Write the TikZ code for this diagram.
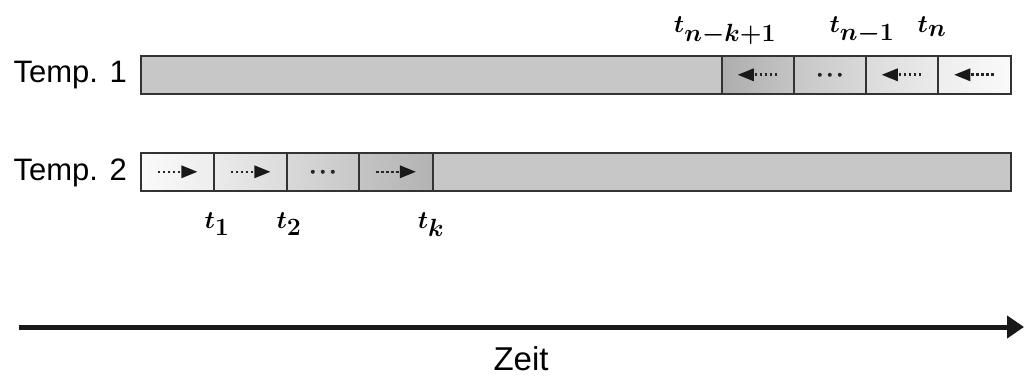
\documentclass[tikz,border=0pt]{standalone}
\usepackage{fontspec}
\setmainfont{Liberation Sans}
\usetikzlibrary{arrows.meta,calc}
\DeclareMathSizes{30}{30}{23}{18}
\begin{document}
\begin{tikzpicture}[x=1pt,y=-1pt,
  bar/.style={draw=black!80, line width=1.6pt, fill=black!22, minimum height=38pt, inner sep=0pt, anchor=north west},
  cell/.style={draw=black!80, line width=1.6pt, minimum height=38pt, inner sep=0pt, anchor=north west},
  lab/.style={font=\fontsize{31}{36}\selectfont, anchor=base east, inner sep=0pt},
  tlab/.style={font=\fontsize{30}{32}\selectfont\boldmath, anchor=base, inner sep=0pt},
  dotline/.style={line width=2.6pt, dash pattern=on 2.4pt off 2.6pt, black!85},
  head/.style={fill=black!90}
]
\useasboundingbox (0,0) rectangle (1024,377);
\newcommand\leftarr[1]{%
  \fill[head] ($(#1)+(-20,0)$) -- ($(#1)+(-4,-6.5)$) -- ($(#1)+(-4,6.5)$) -- cycle;
  \draw[dotline] ($(#1)+(-3,0)$) -- ($(#1)+(21,0)$);}
\newcommand\rightarr[1]{%
  \fill[head] ($(#1)+(20,0)$) -- ($(#1)+(4,-6.5)$) -- ($(#1)+(4,6.5)$) -- cycle;
  \draw[dotline] ($(#1)+(3,0)$) -- ($(#1)+(-21,0)$);}
\newcommand\tripledots[1]{%
  \foreach \d in {-10,0,10} \fill[black!85] ($(#1)+(\d,0)$) circle (2pt);}

% Temp. 1
\node[lab] (l1) at (127,83) {Temp. 1};
\node[bar, minimum width=870pt] (bar1) at (140,55) {};
\node[cell, minimum width=72pt, left color=black!32, right color=black!23] (a1) at (721,55) {};
\node[cell, minimum width=72pt, left color=black!22, right color=black!15] (a2) at (793,55) {};
\node[cell, minimum width=72pt, left color=black!14, right color=black!8] (a3) at (865,55) {};
\node[cell, minimum width=73pt, left color=black!7, right color=black!2] (a4) at (937,55) {};
\leftarr{a1.center}
\tripledots{a2.center}
\leftarr{a3.center}
\leftarr{a4.center}

% Temp. 2
\node[lab] (l2) at (127,180) {Temp. 2};
\node[bar, minimum width=870pt] (bar2) at (140,152) {};
\node[cell, minimum width=73pt, left color=black!2, right color=black!7] (b1) at (140,152) {};
\node[cell, minimum width=73pt, left color=black!8, right color=black!14] (b2) at (213,152) {};
\node[cell, minimum width=72pt, left color=black!15, right color=black!22] (b3) at (286,152) {};
\node[cell, minimum width=74pt, left color=black!23, right color=black!30] (b4) at (358,152) {};
\rightarr{b1.center}
\rightarr{b2.center}
\tripledots{b3.center}
\rightarr{b4.center}

% time labels
\node[tlab] (tnk) at (725,33) {$t_{n-k+1}$};
\node[tlab] (tn1) at (862,33) {$t_{n-1}$};
\node[tlab] (tn) at (932,33) {$t_{n}$};
\node[tlab] (t1) at (217,228) {$t_{1}$};
\node[tlab] (t2) at (289,228) {$t_{2}$};
\node[tlab] (tk) at (431,228) {$t_{k}$};

% time axis
\coordinate (ax0) at (19,327);
\coordinate (ax1) at (1024,327);
\draw[line width=5pt, black!90, -{Triangle[length=17pt,width=22pt]}] (ax0) -- (ax1);
\node[font=\fontsize{33}{38}\selectfont, anchor=base, inner sep=0pt] (zeit) at (521,370) {Zeit};
\end{tikzpicture}
\end{document}
